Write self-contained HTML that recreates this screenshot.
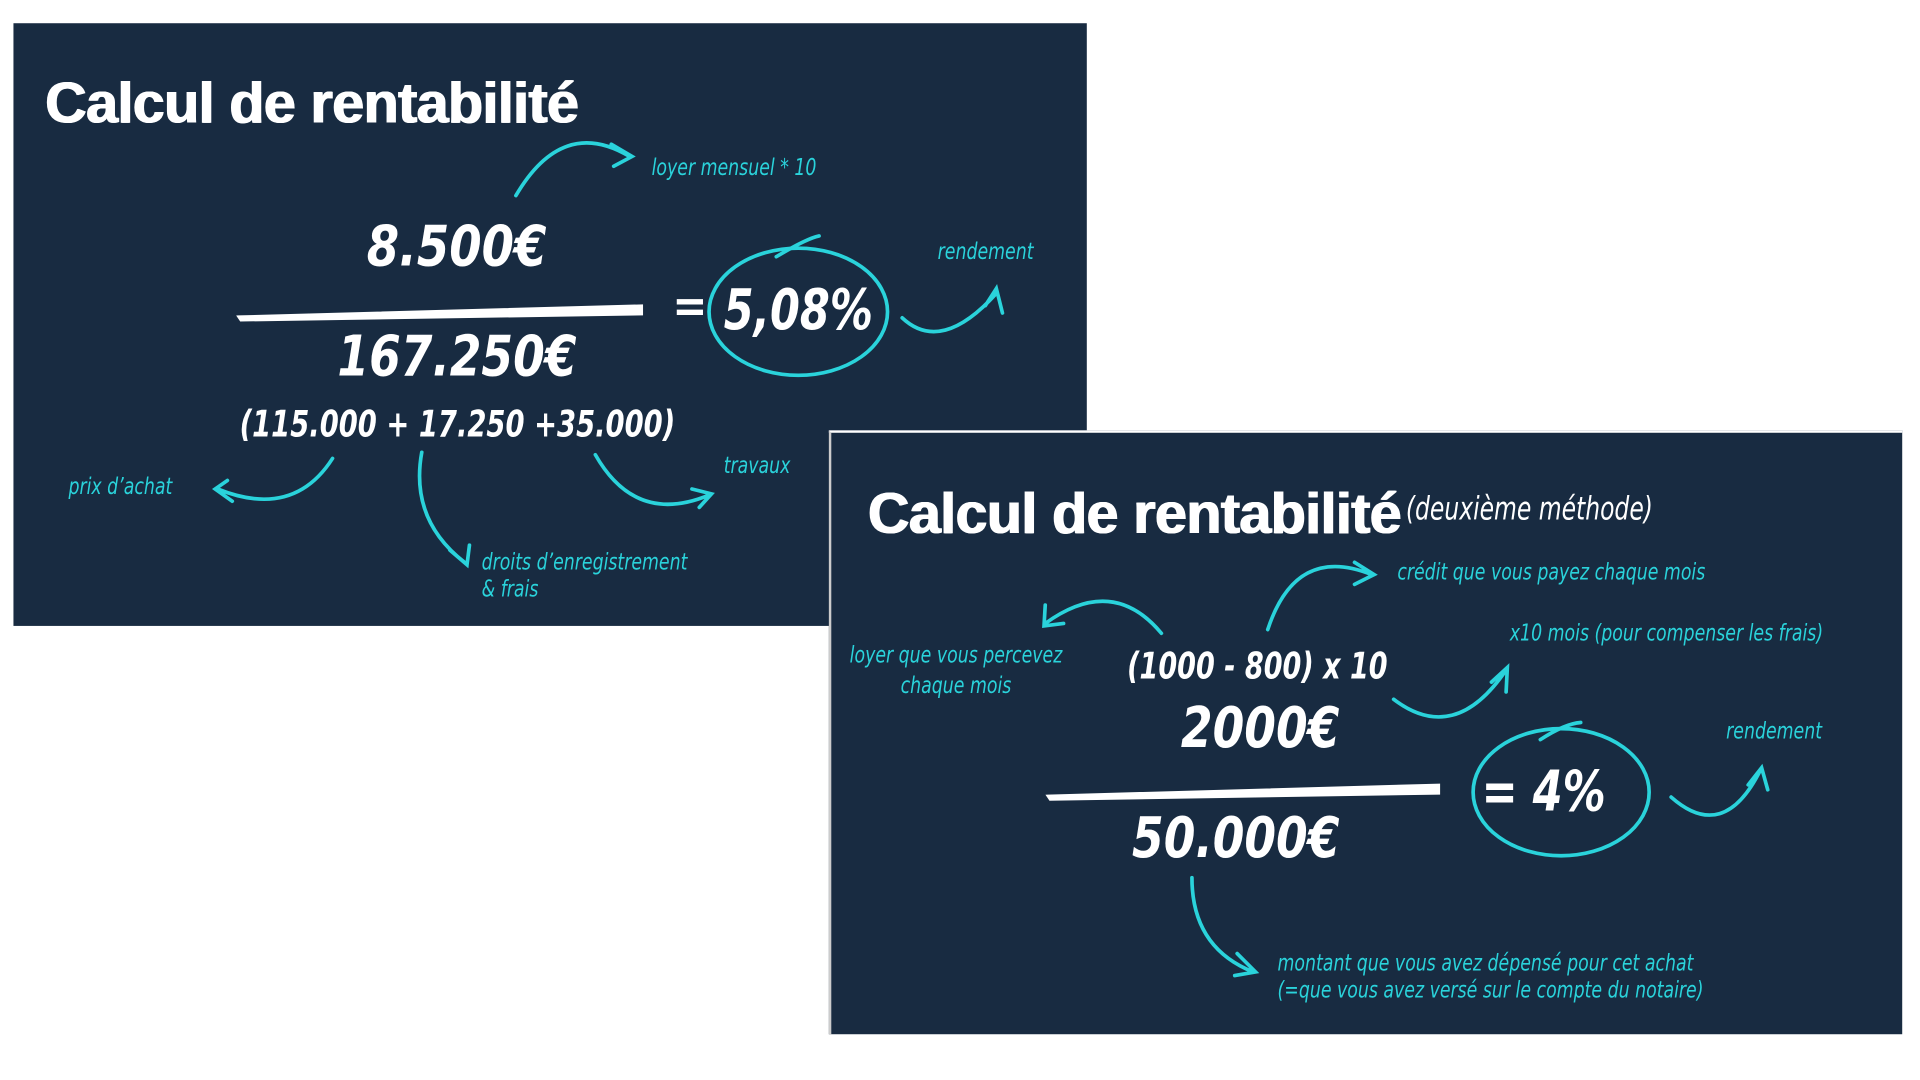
<!DOCTYPE html>
<html><head><meta charset="utf-8"><style>
html,body{margin:0;padding:0;background:#fff;width:1920px;height:1080px;overflow:hidden}
#w{position:absolute;left:0;top:0;width:1560px;height:878px;transform:scale(1.2225);transform-origin:0 0}
.s{position:absolute;background:#182b41}
.t{position:absolute;white-space:nowrap;font-family:"Liberation Sans",sans-serif}
.h{font-weight:bold;color:#fff;font-size:47px;letter-spacing:-0.5px;text-shadow:0.6px 0 0 #fff,-0.6px 0 0 #fff}
.n{color:#fff;font-family:"DejaVu Sans Condensed","DejaVu Sans",sans-serif;font-style:italic;font-weight:bold;transform-origin:0 0}
.c{color:#2ad3db;font-family:"DejaVu Sans Condensed","DejaVu Sans",sans-serif;font-style:italic;font-size:19px;transform:scaleX(.83);transform-origin:0 0}
svg{position:absolute;left:0;top:0}
</style></head><body><div id="w">
<div class="s" style="left:11px;top:19px;width:878px;height:493px"></div>
<div class="s" style="left:678px;top:352px;width:876px;height:492px;border-left:2px solid #ccc;border-top:2px solid #fff"></div>

<div class="t h" style="left:37px;top:56px">Calcul de rentabilité</div>
<div class="t n" style="left:300px;top:174px;font-size:46px;transform:scaleX(.92)">8.500€</div>
<div class="t n" style="left:276px;top:264px;font-size:46px;transform:scaleX(.9)">167.250€</div>
<div class="t n" style="left:550px;top:228px;font-size:38px">=</div>
<div class="t n" style="left:592px;top:226px;font-size:46px;transform:scaleX(.85)">5,08%</div>
<div class="t n" style="left:196px;top:330px;font-size:30px;transform:scaleX(.83)">(115.000 + 17.250 +35.000)</div>
<div class="t c" style="left:533px;top:126px">loyer mensuel * 10</div>
<div class="t c" style="left:767px;top:195px">rendement</div>
<div class="t c" style="left:56px;top:387px">prix d’achat</div>
<div class="t c" style="left:592px;top:370px">travaux</div>
<div class="t c" style="left:394px;top:449px;line-height:22px">droits d’enregistrement<br>&amp; frais</div>

<div class="t h" style="left:710px;top:392px">Calcul de rentabilité</div>
<div class="t" style="left:1150px;top:402px;color:#fff;font-family:'DejaVu Sans Condensed',sans-serif;font-style:italic;font-size:26px;transform:scaleX(.82);transform-origin:0 0">(deuxième méthode)</div>
<div class="t c" style="left:1143px;top:457px">crédit que vous payez chaque mois</div>
<div class="t c" style="left:695px;top:524px;line-height:25px;text-align:center">loyer que vous percevez<br>chaque mois</div>
<div class="t c" style="left:1235px;top:507px">x10 mois (pour compenser les frais)</div>
<div class="t n" style="left:922px;top:528px;font-size:30px;transform:scaleX(.82)">(1000 - 800) x 10</div>
<div class="t n" style="left:966px;top:568px;font-size:46px;transform:scaleX(.9)">2000€</div>
<div class="t n" style="left:926px;top:658px;font-size:46px;transform:scaleX(.9)">50.000€</div>
<div class="t n" style="left:1212px;top:620px;font-size:46px;transform:scaleX(.85)">= 4%</div>
<div class="t c" style="left:1412px;top:587px">rendement</div>
<div class="t c" style="left:1045px;top:777px;line-height:22px">montant que vous avez dépensé pour cet achat<br>(=que vous avez versé sur le compte du notaire)</div>

<svg width="1560" height="878" fill="none" stroke="#2ad3db" stroke-width="3" stroke-linecap="round">
<path d="M195 259 L525 250 L525 257 L197 262 Z" fill="#fff" stroke="#fff" stroke-width="2"/>
<path d="M857 651 L1177 642 L1177 649 L859 654 Z" fill="#fff" stroke="#fff" stroke-width="2"/>
<ellipse cx="653" cy="255" rx="73" ry="52"/>
<path d="M635 210 Q660 195 670 193"/>
<ellipse cx="1277" cy="648" rx="72" ry="52"/>
<path d="M1260 605 Q1280 592 1293 591"/>
<path d="M422 160 Q460 95 515 128 M500 118 L517 128 L502 136"/>
<path d="M738 260 Q770 290 815 240 M806 250 L815 236 L820 256"/>
<path d="M272 375 Q240 425 178 400 M186 393 L176 400 L190 410"/>
<path d="M345 370 Q335 425 380 460 M368 450 L382 462 L384 446"/>
<path d="M487 372 Q520 430 580 405 M566 400 L582 404 L572 415"/>
<path d="M950 518 Q910 470 855 510 M855 495 L854 512 L870 510"/>
<path d="M1037 515 Q1060 445 1122 470 M1108 460 L1124 470 L1108 478"/>
<path d="M1140 572 Q1190 610 1232 548 M1220 558 L1233 546 L1232 566"/>
<path d="M1367 652 Q1410 690 1440 630 M1430 642 L1441 628 L1446 646"/>
<path d="M975 718 Q975 775 1025 795 M1012 780 L1027 795 L1010 798"/>
</svg>
</div></body></html>
